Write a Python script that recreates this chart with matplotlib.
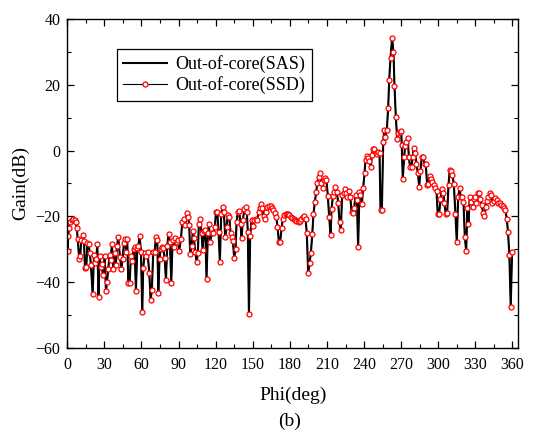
import matplotlib
matplotlib.use('Agg')
import matplotlib.pyplot as plt
from matplotlib.ticker import MultipleLocator

# angle (deg) and gain (dB)
phi = [0.3, 0.8, 1.3, 2.4, 3.5, 4.9, 5.9, 6.7, 7.8, 8.4, 9.7, 10.5, 11.3, 12.7, 13.5, 14.3, 15.4, 16.2, 17.2, 18.3,
       19.1, 20.5, 21.6, 22.6, 23.4, 24.3, 25.3, 26.1, 26.9, 27.8, 28.8, 30.2, 31.3, 32.1, 33.1, 34.2, 35.0, 36.1, 37.2, 38.3,
       39.3, 40.2, 41.2, 42.6, 43.7, 44.7, 45.8, 46.6, 47.7, 48.5, 49.3, 50.4, 51.5, 52.5, 53.6, 54.4, 55.5, 56.6, 57.4, 58.5,
       59.6, 60.6, 61.4, 62.5, 63.6, 64.9, 66.3, 67.4, 68.4, 69.5, 70.6, 71.7, 72.8, 73.6, 74.6, 75.5, 76.5, 77.6, 78.7, 79.8,
       80.8, 81.9, 83.0, 84.1, 85.2, 86.2, 87.3, 88.4, 89.5, 90.5, 91.9, 93.0, 94.3, 95.4, 96.5, 97.8, 98.6, 99.4, 100.5, 101.6,
       102.4, 103.5, 104.6, 105.6, 106.4, 107.5, 108.6, 109.4, 110.5, 111.6, 112.6, 113.7, 114.5, 115.6, 116.7, 118.0, 119.4, 120.2, 121.3, 122.3,
       123.4, 124.5, 125.6, 126.6, 127.7, 128.8, 129.9, 131.0, 132.0, 133.1, 133.9, 135.0, 136.1, 136.9, 138.0, 139.0, 140.1, 140.9, 142.0, 143.1,
       144.2, 145.2, 146.0, 146.9, 147.9, 149.0, 150.4, 151.4, 152.8, 153.6, 154.7, 155.8, 156.6, 157.6, 158.7, 159.8, 160.9, 161.9, 163.3, 164.4,
       165.5, 166.5, 167.9, 169.0, 170.0, 171.1, 172.2, 173.3, 174.3, 175.4, 176.5, 177.6, 178.7, 179.7, 180.8, 181.9, 183.0, 184.0, 185.1, 186.2,
       187.3, 188.4, 189.4, 190.5, 191.6, 192.7, 193.7, 194.8, 195.9, 197.0, 198.1, 199.1, 200.2, 201.3, 202.1, 203.2, 204.3, 205.3, 206.4, 207.5,
       208.6, 209.6, 210.7, 211.8, 212.9, 213.7, 214.8, 215.8, 216.9, 218.0, 219.1, 220.2, 221.2, 222.3, 223.4, 224.5, 225.5, 226.6, 227.7, 228.8,
       229.9, 230.9, 232.0, 233.1, 234.2, 235.2, 236.3, 237.1, 238.2, 239.3, 240.4, 241.2, 242.3, 243.3, 244.4, 245.5, 246.3, 247.4, 248.4, 249.5,
       250.3, 251.4, 252.5, 253.3, 254.4, 255.5, 256.3, 257.3, 258.4, 259.5, 260.3, 261.4, 262.7, 263.8, 264.6, 265.7, 266.8, 267.8, 268.9, 270.0,
       270.5, 271.3, 272.4, 273.2, 274.3, 275.4, 276.2, 277.3, 278.4, 279.2, 280.2, 281.3, 282.4, 283.5, 284.6, 285.6, 286.7, 287.8, 288.9, 289.9,
       291.0, 292.1, 293.2, 294.3, 295.3, 296.4, 297.5, 298.6, 299.6, 300.7, 301.8, 302.9, 304.0, 305.0, 306.1, 307.2, 308.3, 309.3, 310.4, 311.5,
       312.6, 313.9, 315.0, 316.1, 317.2, 318.2, 319.3, 320.4, 321.5, 322.6, 323.6, 324.4, 325.5, 326.6, 327.7, 328.8, 329.8, 330.9, 332.0, 333.1,
       334.1, 335.2, 336.3, 337.4, 338.4, 339.5, 340.6, 341.7, 342.8, 343.8, 345.0, 346.2, 347.4, 348.6, 349.8, 351.0, 352.1, 353.2, 354.3, 355.4,
       356.4, 357.5, 358.6, 359.7]

gain = [-30.5, -26, -23.5, -21.7, -21, -20.8, -21, -21.8, -23.5, -27, -33, -32, -27.3, -25.8, -27.5, -35.8, -35.6, -28.3, -28.6, -31.3,
        -34.8, -43.8, -31.9, -34.3, -33, -28.6, -44.7, -32, -35.4, -34.6, -38, -32.1, -42.8, -40, -36, -31.8, -33.3, -28.6, -36.2, -31.1,
        -34.8, -29.1, -26.4, -32.3, -36.2, -33, -28.3, -27, -30.8, -27, -40.2, -40.4, -32, -33.6, -30, -29.3, -42.8, -29.8, -29, -26,
        -30.8, -49.3, -35.8, -31.3, -32, -31, -37.2, -45.5, -42.5, -31, -31, -26.2, -27.2, -43.5, -33, -30, -29.5, -29.8, -32.8, -39.4,
        -29, -25.4, -27.9, -40.2, -27.2, -29.3, -26.7, -27.9, -27.2, -30.5, -27, -21.7, -20.7, -22.7, -19.1, -20.1, -22.8, -31.6, -29, -24.4,
        -26.7, -30.8, -34, -31.1, -22.4, -20.8, -25.2, -30.2, -24.5, -24.2, -39.2, -25.2, -22.5, -27.7, -25.2, -25.2, -23.2, -18.8, -18.7, -24.7,
        -34, -19.3, -17.1, -18.6, -26.2, -23.2, -19.6, -20.1, -25, -26.4, -27.5, -32.8, -30, -21.8, -18.8, -18.4, -22.4, -26.7, -21.2, -17.9,
        -17.1, -18.6, -24.9, -49.9, -26, -21.2, -22.9, -21, -20.7, -21.2, -18.8, -17.4, -16.3, -17.6, -20, -20.7, -18.8, -17.1, -16.8, -16.8,
        -17.4, -18.1, -18.9, -20.3, -23.2, -27.7, -27.7, -23.7, -20.8, -19.6, -19.2, -19.2, -19.4, -19.7, -20.1, -20.5, -20.9, -21.2, -21.5, -21.6,
        -21.7, -21.5, -20.8, -20.1, -19.9, -20.8, -25.2, -37.2, -34.3, -31.3, -25.5, -19.3, -15.6, -12.7, -10, -8, -6.8, -9.8, -11.5, -9,
        -8.5, -9, -13.8, -20.3, -25.7, -17.9, -13.9, -12.5, -11.2, -12.5, -16.1, -21.7, -24.2, -13.4, -13, -11.8, -12.8, -14, -12.3, -14,
        -18.6, -19.1, -17.6, -13.4, -15.1, -29.5, -12.5, -13.6, -16.3, -11.3, -6.8, -2.9, -1.7, -2.4, -3.1, -5, -1.4, 0.6, 0.6, -0.9,
        -1.1, -0.4, -0.9, -18.2, -18.2, 2.6, 6.2, 4.2, 6.2, 13, 21.4, 28.3, 34.3, 29.9, 19.7, 10.1, 3.5, 5.2, 5.7, 5.9,
        1.6, -8.7, -2.1, 1.4, 2.6, 3.9, -2.1, -5.1, -5.1, -1.9, 0.9, -0.9, -4, -6.8, -11, -6.2, -1.9, -2.1, -4.2, -4,
        -10.5, -10.2, -7.8, -8.8, -9.5, -10.5, -11.5, -12.2, -19.4, -19.4, -14.9, -11.8, -12.8, -15.9, -19.4, -19.1, -10.5, -5.8, -6.1, -7.5,
        -10.3, -19.4, -27.9, -14, -11.5, -14, -14.3, -15.6, -26.4, -30.6, -17.4, -22.4, -14, -15.6, -17.1, -14.8, -14.3, -16.1, -12.8, -13,
        -14.8, -16.6, -19.1, -19.9, -17.1, -15.4, -14.1, -13, -13.6, -15.9, -15.4, -14.4, -15.1, -15.9, -16.1, -16.6, -17.0, -17.5, -18.1, -20.7,
        -24.7, -31.8, -47.7, -30.8]

plt.rcParams['font.family'] = ['Liberation Serif', 'DejaVu Serif']

fig = plt.figure(figsize=(5.47, 4.34), dpi=100)
ax = fig.add_axes([0.123, 0.199, 0.824, 0.757])

ax.plot(phi, gain, color='black', lw=1.5, label='Out-of-core(SAS)')
ax.plot(phi, gain, color='black', lw=0.8, marker='o', ms=3.6, mfc='white',
        mec='red', mew=0.9, label='Out-of-core(SSD)')

ax.set_xlim(0, 364.5)
ax.set_ylim(-60, 40)
ax.xaxis.set_major_locator(MultipleLocator(30))
ax.xaxis.set_minor_locator(MultipleLocator(15))
ax.yaxis.set_major_locator(MultipleLocator(20))
ax.yaxis.set_minor_locator(MultipleLocator(10))
ax.tick_params(which='both', direction='in', top=True, right=True, labelsize=11.5)
ax.tick_params(which='major', length=5, width=0.9)
ax.tick_params(which='minor', length=3, width=0.8)
ax.tick_params(axis='x', pad=7)
ax.tick_params(axis='y', pad=5)
for s in ax.spines.values():
    s.set_linewidth(1.0)

ax.set_xlabel('Phi(deg)', fontsize=14)
ax.set_ylabel('Gain(dB)', fontsize=14)
ax.xaxis.set_label_coords(0.5, -0.12)
ax.yaxis.set_label_coords(-0.085, 0.5)

leg = ax.legend(loc='upper left', bbox_to_anchor=(0.11, 0.91), borderaxespad=0,
                fontsize=13, fancybox=False, framealpha=1, edgecolor='black',
                handlelength=2.4, borderpad=0.35, labelspacing=0.2, handletextpad=0.5)
leg.get_frame().set_linewidth(0.9)

fig.text(0.53, 0.03, '(b)', ha='center', va='center', fontsize=14)

fig.savefig('out.png', dpi=100)
